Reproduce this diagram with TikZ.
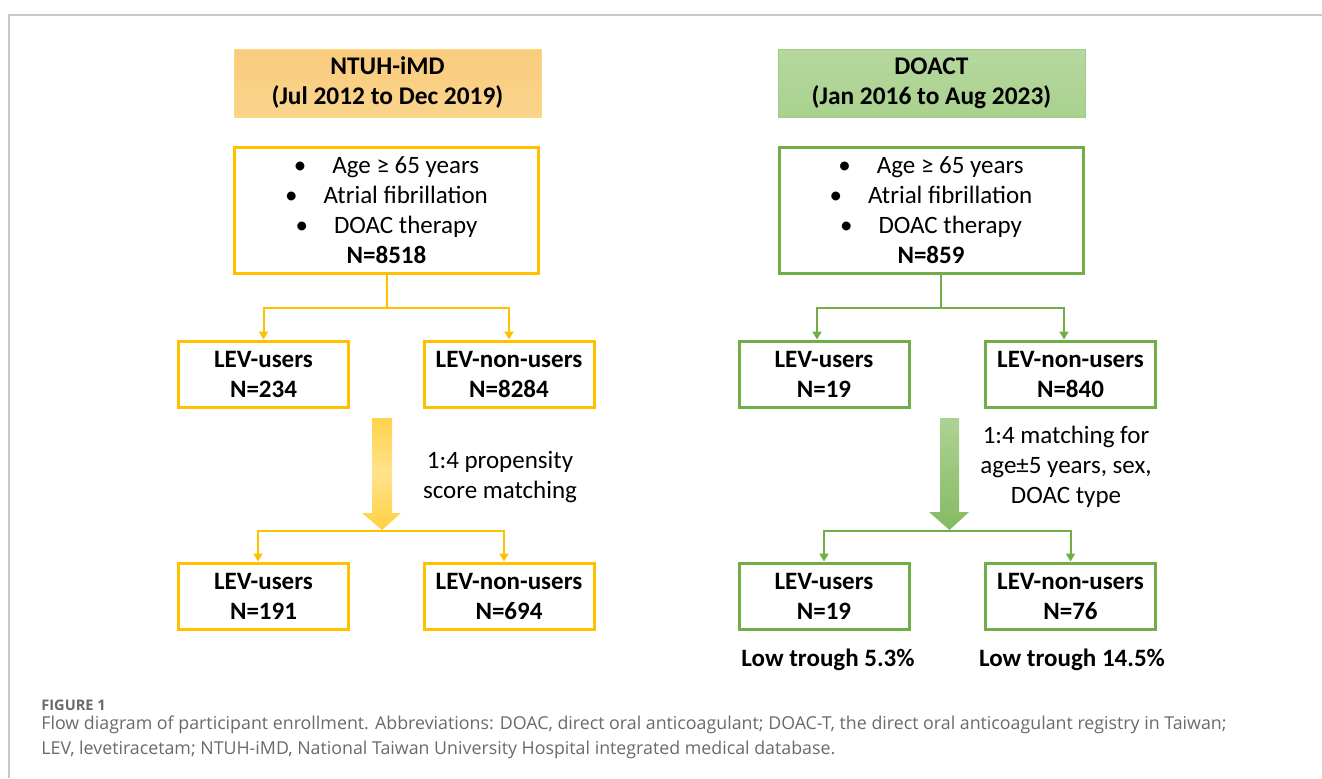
\documentclass[tikz,border=0pt]{standalone}
\usepackage{fontspec}
\setmainfont{Carlito}
\newfontfamily\capfont{Open Sans}
\usetikzlibrary{arrows.meta,positioning}
\definecolor{gold}{HTML}{FFC000}
\definecolor{goldhead}{HTML}{FAD48C}
\definecolor{goldedge}{HTML}{FDD97A}
\definecolor{leaf}{HTML}{70AD47}
\definecolor{leafhead}{HTML}{A9D18E}
\definecolor{leafedge}{HTML}{9FCC84}
\definecolor{capgray}{HTML}{6A6A6A}
\definecolor{framegray}{HTML}{C8C8C8}
\tikzset{
  hdr/.style={minimum width=153.5pt,minimum height=34pt,inner sep=0pt,
    align=center,font=\fontsize{12.7}{15}\selectfont\bfseries},
  crit/.style={line width=1.5pt,minimum width=152pt,minimum height=63pt,inner sep=0pt,
    align=center,font=\fontsize{12.5}{15}\selectfont},
  grp/.style={line width=1.5pt,minimum width=85pt,minimum height=33pt,inner sep=0pt,
    align=center,font=\fontsize{12.5}{15}\selectfont\bfseries},
  goldbox/.style={draw=gold},
  leafbox/.style={draw=leaf},
  link/.style={line width=1pt},
  arw/.style={link,-{Triangle[length=4pt,width=4.5pt]}},
  note/.style={align=center,font=\fontsize{12.5}{15}\selectfont},
  res/.style={font=\fontsize{12.5}{15}\selectfont\bfseries},
  captext/.style={anchor=base west,inner sep=0pt,text=capgray,font=\capfont\fontsize{8.9}{10}\selectfont},
}
\newcommand{\itm}{\textbullet\hspace{13pt}}
\begin{document}
\begin{tikzpicture}[x=0.5pt,y=-0.5pt]
  \useasboundingbox (0,0) rectangle (1322,778);
  % frame
  \draw[framegray,line width=1pt] (1322,15) -- (9,15) -- (9,778);

  % ---- NTUH-iMD cohort ----
  \node[hdr,draw=goldedge,top color=goldhead!90!orange,bottom color=goldhead] (hdL) at (387.5,83)
    {NTUH-iMD\\(Jul 2012 to Dec 2019)};
  \node[crit,goldbox] (crL) at (386.5,210.5)
    {\itm Age ≥ 65 years\\\itm Atrial fibrillation\\\itm DOAC therapy\\\textbf{N=8518}};
  \node[grp,goldbox] (usL) at (263.5,374) {LEV-users\\N=234};
  \node[grp,goldbox] (nuL) at (509,374) {LEV-non-users\\N=8284};
  \coordinate (jL) at (387,308);
  \draw[link,gold] (crL) -- (jL);
  \draw[arw,gold] (jL) -| (usL);
  \draw[arw,gold] (jL) -| (nuL);
  % fat arrow
  \shade[top color=gold!70,bottom color=gold!75,middle color=gold!45]
    (372,418) -- (392,418) -- (392,513) -- (401,513) -- (382,530)
    -- (362,513) -- (372,513) -- cycle;
  \coordinate (aL) at (382,531);
  \node[note] (mtL) at (500,477.5) {1:4 propensity\\score matching};
  \node[grp,goldbox] (usL2) at (263.5,596) {LEV-users\\N=191};
  \node[grp,goldbox] (nuL2) at (509,596) {LEV-non-users\\N=694};
  \draw[arw,gold] (aL) -| ([xshift=-2.75pt]usL2.north);
  \draw[arw,gold] (aL) -| ([xshift=-2.5pt]nuL2.north);

  % ---- DOACT cohort ----
  \node[hdr,draw=leafedge,top color=leafhead!85!white,bottom color=leafhead] (hdR) at (931.5,83)
    {DOACT\\(Jan 2016 to Aug 2023)};
  \node[crit,leafbox] (crR) at (931,210.5)
    {\itm Age ≥ 65 years\\\itm Atrial fibrillation\\\itm DOAC therapy\\\textbf{N=859}};
  \node[grp,leafbox] (usR) at (824,374) {LEV-users\\N=19};
  \node[grp,leafbox] (nuR) at (1070.5,374) {LEV-non-users\\N=840};
  \coordinate (jR) at (941,308);
  \draw[link,leaf] (crR.south -| jR) -- (jR);
  \draw[arw,leaf] (jR) -| ([xshift=-3.5pt]usR.north);
  \draw[arw,leaf] (jR) -| ([xshift=-3.25pt]nuR.north);
  % fat arrow
  \shade[top color=leafhead!95!white,bottom color=leaf!85]
    (940,418) -- (959,418) -- (959,512) -- (969,512) -- (949.5,530)
    -- (929,512) -- (940,512) -- cycle;
  \coordinate (aR) at (949.5,531);
  \node[note] (mtR) at (1066,467) {1:4 matching for\\age±5 years, sex,\\DOAC type};
  \node[grp,leafbox] (usR2) at (824,596) {LEV-users\\N=19};
  \node[grp,leafbox] (nuR2) at (1070.5,596) {LEV-non-users\\N=76};
  \draw[arw,leaf] (aR) -| (usR2);
  \draw[arw,leaf] (aR) -| (nuR2);
  \node[res] (lowU) at (828,660) {Low trough 5.3\%};
  \node[res] (lowN) at (1072,660) {Low trough 14.5\%};

  % caption
  \node[captext,font=\capfont\fontsize{7.3}{8}\selectfont\bfseries] (fig) at (41,710) {FIGURE 1};
  \node[captext] (cap1) at (41,729) {Flow diagram of participant enrollment. Abbreviations: DOAC, direct oral anticoagulant; DOAC-T, the direct oral anticoagulant registry in Taiwan;};
  \node[captext] (cap2) at (41,754) {LEV, levetiracetam; NTUH-iMD, National Taiwan University Hospital integrated medical database.};
\end{tikzpicture}
\end{document}
